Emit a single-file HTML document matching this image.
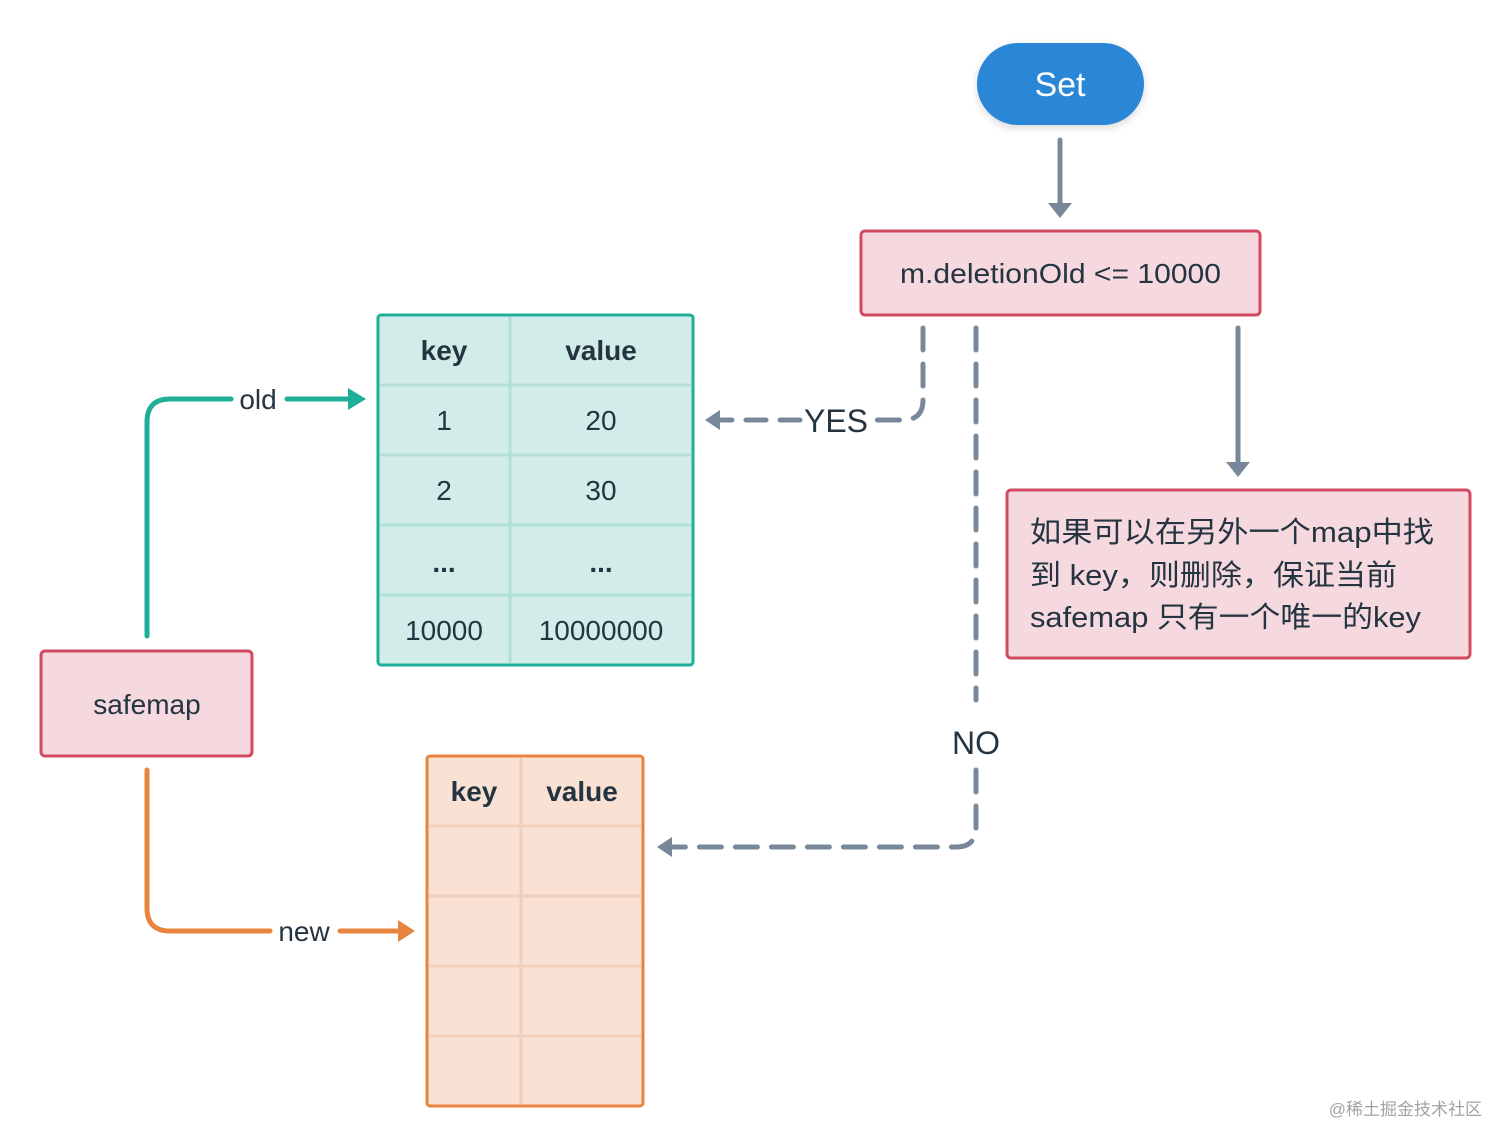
<!DOCTYPE html>
<html><head><meta charset="utf-8"><style>
html,body{margin:0;padding:0;background:#fff;}
svg{display:block;}
text{font-family:"Liberation Sans","Noto Sans CJK SC",sans-serif;fill:#243440;}
</style></head><body>
<svg width="1512" height="1148" viewBox="0 0 1512 1148" xmlns="http://www.w3.org/2000/svg">
<defs>
<filter id="sh" x="-20%" y="-20%" width="140%" height="160%"><feDropShadow dx="0" dy="3" stdDeviation="4" flood-color="#000" flood-opacity="0.15"/></filter>
</defs>
<rect x="977" y="43" width="167" height="82" rx="41" fill="#2b87d8" filter="url(#sh)"/>
<text x="1060" y="96" font-size="34" text-anchor="middle" style="fill:#fff">Set</text>
<line x1="1060" y1="140" x2="1060" y2="205" stroke="#78889a" stroke-width="5" stroke-linecap="round"/>
<polygon points="1048,203 1072,203 1060,218" fill="#78889a"/>
<rect x="861" y="231" width="399" height="84" rx="4" fill="#f6d9df" stroke="#d24a60" stroke-width="3"/>
<text x="900" y="283" font-size="28" textLength="321" lengthAdjust="spacingAndGlyphs">m.deletionOld &lt;= 10000</text>
<path d="M923 328 V400 Q923 420 903 420 H872" fill="none" stroke="#78889a" stroke-width="5" stroke-dasharray="22,14" stroke-linecap="round"/>
<path d="M800 420 H720" fill="none" stroke="#78889a" stroke-width="5" stroke-dasharray="20,14" stroke-linecap="round"/>
<polygon points="705,420 720,410 720,430" fill="#78889a"/>
<text x="836" y="432" font-size="32" text-anchor="middle">YES</text>
<path d="M976 328 V700" fill="none" stroke="#78889a" stroke-width="5" stroke-dasharray="22,14" stroke-linecap="round"/>
<text x="976" y="754" font-size="32" text-anchor="middle">NO</text>
<path d="M976 770 V827 Q976 847 956 847 H672" fill="none" stroke="#78889a" stroke-width="5" stroke-dasharray="22,14" stroke-linecap="round"/>
<polygon points="657,847 672,837 672,857" fill="#78889a"/>
<line x1="1238" y1="328" x2="1238" y2="463" stroke="#78889a" stroke-width="5" stroke-linecap="round"/>
<polygon points="1226,462 1250,462 1238,477" fill="#78889a"/>
<rect x="1007" y="490" width="463" height="168" rx="4" fill="#f6d9df" stroke="#d24a60" stroke-width="3"/>
<text x="1030" y="542" font-size="29" textLength="404" lengthAdjust="spacingAndGlyphs">如果可以在另外一个map中找</text>
<text x="1030" y="585" font-size="29" textLength="367" lengthAdjust="spacingAndGlyphs">到 key，则删除，保证当前</text>
<text x="1030" y="627" font-size="29" textLength="391" lengthAdjust="spacingAndGlyphs">safemap 只有一个唯一的key</text>
<rect x="378" y="315" width="315" height="350" rx="3" fill="#d2ede9"/>
<g stroke="#b2e0d7" stroke-width="3">
<line x1="510" y1="317" x2="510" y2="663"/>
<line x1="380" y1="385" x2="691" y2="385"/>
<line x1="380" y1="455" x2="691" y2="455"/>
<line x1="380" y1="525" x2="691" y2="525"/>
<line x1="380" y1="595" x2="691" y2="595"/>
</g>
<rect x="378" y="315" width="315" height="350" rx="3" fill="none" stroke="#1fae98" stroke-width="3"/>
<g font-size="28" text-anchor="middle">
<text x="444" y="360" font-weight="bold">key</text><text x="601" y="360" font-weight="bold">value</text>
<text x="444" y="430">1</text><text x="601" y="430">20</text>
<text x="444" y="500">2</text><text x="601" y="500">30</text>
<text x="444" y="572" font-weight="bold">...</text><text x="601" y="572" font-weight="bold">...</text>
<text x="444" y="640">10000</text><text x="601" y="640">10000000</text>
</g>
<rect x="41" y="651" width="211" height="105" rx="4" fill="#f6d9df" stroke="#d24a60" stroke-width="3"/>
<text x="147" y="714" font-size="28" text-anchor="middle">safemap</text>
<path d="M147 636 V422 Q147 399 170 399 H231" fill="none" stroke="#1fae98" stroke-width="5" stroke-linecap="round"/>
<text x="258" y="409" font-size="28" text-anchor="middle">old</text>
<line x1="287" y1="399" x2="350" y2="399" stroke="#1fae98" stroke-width="5" stroke-linecap="round"/>
<polygon points="348,388 348,410 366,399" fill="#1fae98"/>
<path d="M147 770 V908 Q147 931 170 931 H270" fill="none" stroke="#e8843d" stroke-width="5" stroke-linecap="round"/>
<text x="304" y="941" font-size="28" text-anchor="middle">new</text>
<line x1="340" y1="931" x2="400" y2="931" stroke="#e8843d" stroke-width="5" stroke-linecap="round"/>
<polygon points="398,920 398,942 415,931" fill="#e8843d"/>
<rect x="427" y="756" width="216" height="350" rx="3" fill="#f9e2d4"/>
<g stroke="#f0d0bb" stroke-width="3">
<line x1="521" y1="758" x2="521" y2="1104"/>
<line x1="429" y1="826" x2="641" y2="826"/>
<line x1="429" y1="896" x2="641" y2="896"/>
<line x1="429" y1="966" x2="641" y2="966"/>
<line x1="429" y1="1036" x2="641" y2="1036"/>
</g>
<rect x="427" y="756" width="216" height="350" rx="3" fill="none" stroke="#e8843d" stroke-width="3"/>
<text x="474" y="801" font-size="28" text-anchor="middle" font-weight="bold">key</text>
<text x="582" y="801" font-size="28" text-anchor="middle" font-weight="bold">value</text>
<text x="1482" y="1115" font-size="17" text-anchor="end" style="fill:#a0a4a8">@稀土掘金技术社区</text>
</svg>
</body></html>
